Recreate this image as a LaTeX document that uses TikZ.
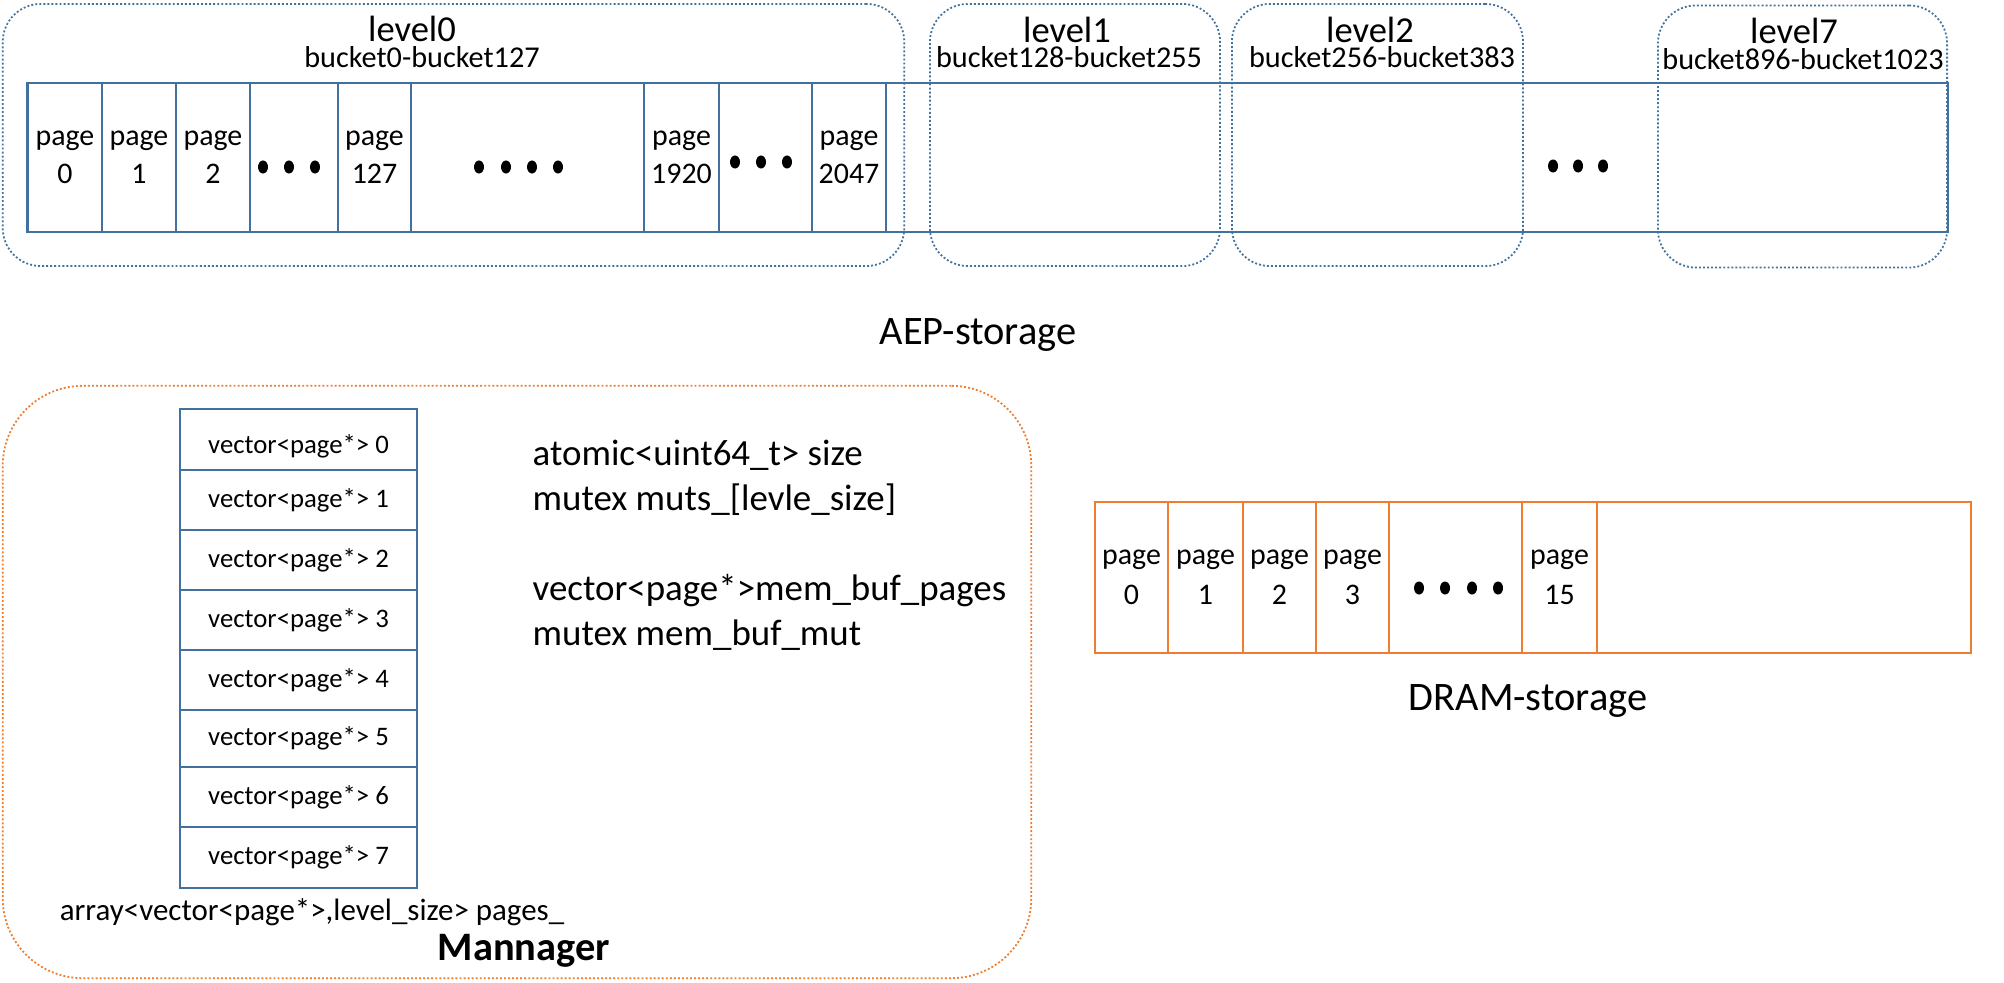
\documentclass[tikz,border=0pt]{standalone}
\usepackage{fontspec}
\setmainfont{Carlito}
\usepackage{tikz}
\usetikzlibrary{positioning}

\definecolor{aepblue}{HTML}{41719C}
\definecolor{dramorange}{HTML}{ED7D31}

\begin{document}
\begin{tikzpicture}[x=0.01cm, y=-0.01cm,
  cell/.style={rectangle, draw=aepblue, line width=0.6pt, minimum height=1.49cm,
    inner sep=1pt, align=center, font=\fontsize{8.5}{10.8}\selectfont},
  dcell/.style={cell, draw=dramorange, minimum height=1.51cm, font=\fontsize{8.5}{11.5}\selectfont},
  lvlbox/.style={rectangle, draw=aepblue, line width=0.5pt, dash pattern=on 0.55pt off 0.6pt,
    rounded corners=0.38cm, minimum height=2.62cm},
  mgrbox/.style={rectangle, draw=dramorange, line width=0.5pt, dash pattern=on 0.55pt off 0.6pt,
    rounded corners=0.8cm},
  vec/.style={rectangle, draw=aepblue, line width=0.6pt, minimum width=2.37cm,
    font=\fontsize{7.6}{9}\selectfont},
  lvltitle/.style={anchor=base, font=\fontsize{10.4}{12}\selectfont, inner sep=0pt},
  bucketrange/.style={anchor=base, font=\fontsize{8.6}{10}\selectfont, inner sep=0pt},
  storelabel/.style={font=\fontsize{11.5}{13}\selectfont, inner sep=0pt},
  bigdot/.style={fill=black}
]
\useasboundingbox (0,0) rectangle (2004,982);

% AEP levels
\node[lvlbox, minimum width=9.01cm] (lvl0) at (453.5,135) {};
\node[lvlbox, minimum width=2.90cm] (lvl1) at (1075,135) {};
\node[lvlbox, minimum width=2.91cm] (lvl2) at (1377.5,135) {};
\node[lvlbox, minimum width=2.89cm] (lvl7) at (1802.5,136.5) {};

\node[lvltitle] (t0) at (412,42) {level0};
\node[bucketrange] (b0) at (422,68) {bucket0-bucket127};
\node[lvltitle] (t1) at (1067,43) {level1};
\node[bucketrange] (b1) at (1069,68) {bucket128-bucket255};
\node[lvltitle] (t2) at (1370,43) {level2};
\node[bucketrange] (b2) at (1382,68) {bucket256-bucket383};
\node[lvltitle] (t7) at (1794,44) {level7};
\node[bucketrange] (b7) at (1803,70) {bucket896-bucket1023};

% AEP pages
\node[cell, minimum width=19.19cm] (aeprow) at (987.5,157.5) {};
\node[cell, minimum width=0.74cm] (p0)    at (65,157.5)    {page\\0};
\node[cell, minimum width=0.74cm] (p1)    at (139,157.5)   {page\\1};
\node[cell, minimum width=0.74cm] (p2)    at (213,157.5)   {page\\2};
\node[cell, minimum width=0.88cm] (gapA)  at (294,157.5)   {};
\node[cell, minimum width=0.73cm] (p127)  at (374.5,157.5) {page\\127};
\node[cell, minimum width=2.33cm] (gapB)  at (527.5,157.5) {};
\node[cell, minimum width=0.75cm] (p1920) at (681.5,157.5) {page\\1920};
\node[cell, minimum width=0.93cm] (gapC)  at (765.5,157.5) {};
\node[cell, minimum width=0.74cm] (p2047) at (849,157.5)   {page\\2047};

\fill[bigdot] (263,167) ellipse [x radius=0.05cm, y radius=0.065cm]
  (289,167) ellipse [x radius=0.05cm, y radius=0.065cm]
  (315,167) ellipse [x radius=0.05cm, y radius=0.065cm];
\fill[bigdot] (479,167) ellipse [x radius=0.05cm, y radius=0.065cm]
  (506,167) ellipse [x radius=0.05cm, y radius=0.065cm]
  (532,167) ellipse [x radius=0.05cm, y radius=0.065cm]
  (558,167) ellipse [x radius=0.05cm, y radius=0.065cm];
\fill[bigdot] (735,162) ellipse [x radius=0.05cm, y radius=0.065cm]
  (761,162) ellipse [x radius=0.05cm, y radius=0.065cm]
  (787,162) ellipse [x radius=0.05cm, y radius=0.065cm];
\fill[bigdot] (1553,166) ellipse [x radius=0.05cm, y radius=0.065cm]
  (1578,166) ellipse [x radius=0.05cm, y radius=0.065cm]
  (1603,166) ellipse [x radius=0.05cm, y radius=0.065cm];

\node[storelabel] (aep) at (978,335) {AEP-storage};

% Manager
\node[mgrbox, minimum width=10.28cm, minimum height=5.92cm] (mgr) at (517,682) {};

\node[vec, minimum height=0.61cm, text height=9.5pt] (v0) at (298.5,439.5) {vector<page*> 0};
\node[vec, minimum height=0.60cm] (v1) at (298.5,500)   {vector<page*> 1};
\node[vec, minimum height=0.60cm] (v2) at (298.5,560)   {vector<page*> 2};
\node[vec, minimum height=0.60cm] (v3) at (298.5,620)   {vector<page*> 3};
\node[vec, minimum height=0.60cm] (v4) at (298.5,680)   {vector<page*> 4};
\node[vec, minimum height=0.57cm] (v5) at (298.5,738.5) {vector<page*> 5};
\node[vec, minimum height=0.60cm] (v6) at (298.5,797)   {vector<page*> 6};
\node[vec, minimum height=0.61cm] (v7) at (298.5,857.5) {vector<page*> 7};

\node[font=\fontsize{8.8}{10}\selectfont, inner sep=0pt] (arr) at (312,912)
  {array<vector<page*>,level\_size> pages\_};
\node[font=\fontsize{11.5}{13}\selectfont\bfseries, inner sep=0pt] (mgrname) at (524,951) {Mannager};

\node[anchor=west, align=left, inner sep=0pt, font=\fontsize{10.5}{12.8}\selectfont] (fields) at (532,545)
  {atomic<uint64\_t> size\\mutex muts\_[levle\_size]\\[12.8pt]vector<page*>mem\_buf\_pages\\mutex mem\_buf\_mut};

% DRAM
\node[dcell, minimum width=8.76cm] (dramrow) at (1533,577.5) {};
\node[dcell, minimum width=0.73cm] (d0)   at (1131.5,577.5) {page\\0};
\node[dcell, minimum width=0.75cm] (d1)   at (1205.5,577.5) {page\\1};
\node[dcell, minimum width=0.73cm] (d2)   at (1279.5,577.5) {page\\2};
\node[dcell, minimum width=0.73cm] (d3)   at (1352.5,577.5) {page\\3};
\node[dcell, minimum width=1.33cm] (dgap) at (1455.5,577.5) {};
\node[dcell, minimum width=0.75cm] (d15)  at (1559.5,577.5) {page\\15};

\fill[bigdot] (1419,588) ellipse [x radius=0.05cm, y radius=0.065cm]
  (1445,588) ellipse [x radius=0.05cm, y radius=0.065cm]
  (1472,588) ellipse [x radius=0.05cm, y radius=0.065cm]
  (1498,588) ellipse [x radius=0.05cm, y radius=0.065cm];

\node[storelabel] (dram) at (1528,701) {DRAM-storage};

\end{tikzpicture}
\end{document}
